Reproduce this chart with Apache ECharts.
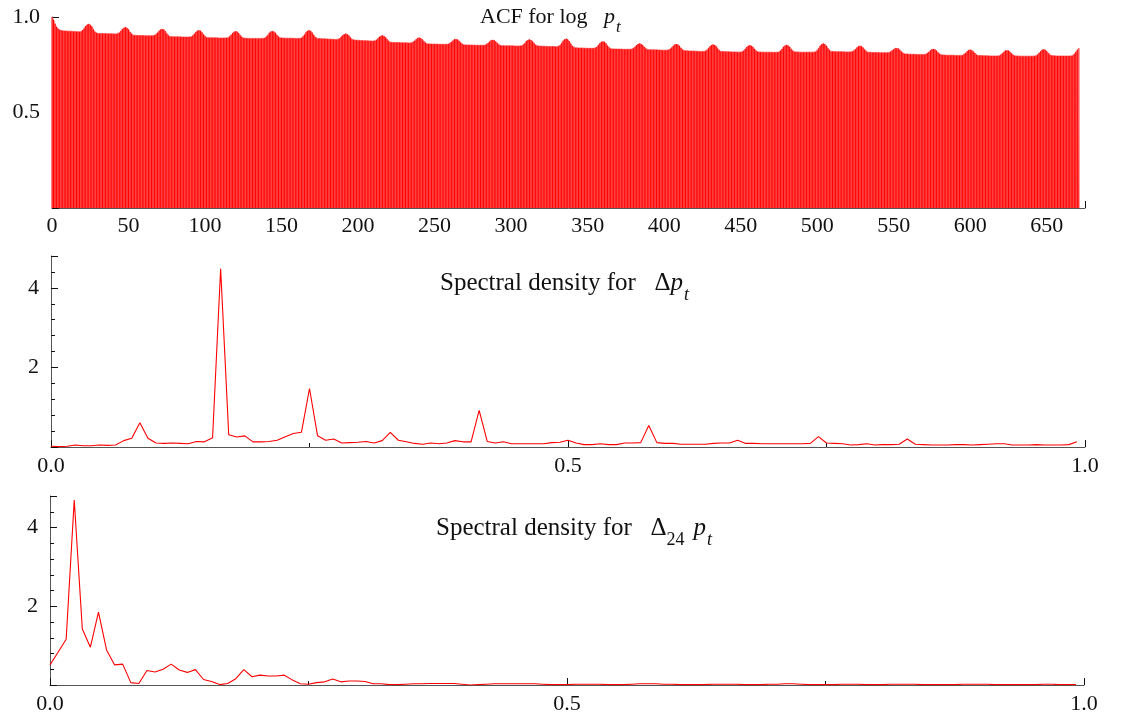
<!DOCTYPE html>
<html>
<head>
<meta charset="utf-8">
<script src="https://cdn.jsdelivr.net/npm/echarts@6/dist/echarts.min.js"></script>
<style>
html,body{margin:0;padding:0;background:#fff;}
#c{width:1121px;height:718px;}
</style>
</head>
<body>
<div id="c"></div>
<script>
// ---------- DATA ----------
// ACF of log p_t, lags 0..671 (rows of 24 lags)
const acfValues = [
1.000,0.985,0.965,0.948,0.938,0.932,0.929,0.928,0.927,0.927,0.926,0.926,0.925,0.925,0.924,0.924,0.923,0.923,0.922,0.924,0.930,0.940,0.953,0.961,
0.963,0.960,0.951,0.936,0.923,0.916,0.914,0.914,0.913,0.913,0.913,0.913,0.912,0.912,0.912,0.912,0.912,0.911,0.911,0.913,0.918,0.927,0.937,0.944,
0.946,0.944,0.935,0.922,0.912,0.905,0.904,0.904,0.903,0.903,0.903,0.903,0.903,0.902,0.902,0.902,0.902,0.902,0.902,0.904,0.909,0.918,0.928,0.935,
0.937,0.935,0.927,0.914,0.904,0.898,0.897,0.897,0.896,0.896,0.896,0.896,0.896,0.895,0.895,0.895,0.895,0.895,0.895,0.897,0.902,0.911,0.921,0.928,
0.930,0.928,0.920,0.909,0.899,0.893,0.892,0.892,0.891,0.891,0.891,0.891,0.891,0.890,0.890,0.890,0.890,0.890,0.890,0.892,0.897,0.906,0.916,0.923,
0.925,0.923,0.916,0.905,0.895,0.890,0.889,0.889,0.888,0.888,0.888,0.888,0.888,0.888,0.888,0.888,0.888,0.888,0.888,0.890,0.896,0.905,0.917,0.924,
0.926,0.924,0.917,0.906,0.896,0.891,0.890,0.890,0.889,0.889,0.889,0.889,0.889,0.889,0.889,0.888,0.888,0.888,0.888,0.890,0.896,0.907,0.920,0.928,
0.930,0.928,0.919,0.906,0.895,0.888,0.887,0.887,0.886,0.886,0.886,0.885,0.885,0.884,0.884,0.883,0.883,0.882,0.882,0.884,0.888,0.896,0.905,0.910,
0.912,0.910,0.903,0.893,0.884,0.879,0.879,0.878,0.878,0.877,0.877,0.877,0.876,0.876,0.876,0.875,0.875,0.875,0.874,0.875,0.880,0.887,0.896,0.902,
0.903,0.901,0.894,0.883,0.873,0.868,0.868,0.867,0.867,0.866,0.866,0.866,0.865,0.865,0.865,0.865,0.865,0.864,0.864,0.865,0.869,0.876,0.884,0.890,
0.891,0.889,0.883,0.873,0.865,0.860,0.859,0.859,0.858,0.858,0.858,0.858,0.858,0.857,0.857,0.857,0.857,0.857,0.857,0.858,0.862,0.869,0.877,0.883,
0.884,0.882,0.876,0.867,0.859,0.855,0.854,0.854,0.853,0.853,0.853,0.853,0.853,0.852,0.852,0.852,0.852,0.852,0.852,0.853,0.857,0.864,0.872,0.878,
0.879,0.878,0.872,0.863,0.855,0.851,0.850,0.850,0.849,0.849,0.849,0.849,0.849,0.849,0.848,0.848,0.848,0.848,0.848,0.850,0.855,0.863,0.874,0.880,
0.882,0.880,0.873,0.863,0.854,0.849,0.848,0.848,0.847,0.847,0.847,0.846,0.846,0.846,0.845,0.845,0.845,0.844,0.844,0.846,0.852,0.863,0.876,0.884,
0.886,0.884,0.874,0.860,0.848,0.840,0.839,0.839,0.838,0.838,0.838,0.837,0.837,0.837,0.836,0.836,0.836,0.836,0.836,0.838,0.843,0.852,0.863,0.870,
0.872,0.870,0.862,0.850,0.840,0.834,0.833,0.833,0.832,0.832,0.832,0.832,0.832,0.831,0.831,0.831,0.831,0.831,0.830,0.832,0.836,0.844,0.853,0.859,
0.861,0.859,0.853,0.843,0.835,0.830,0.829,0.829,0.828,0.828,0.828,0.828,0.827,0.827,0.827,0.826,0.826,0.826,0.826,0.828,0.832,0.840,0.850,0.856,
0.858,0.856,0.849,0.838,0.829,0.824,0.823,0.823,0.822,0.822,0.822,0.822,0.821,0.821,0.821,0.820,0.820,0.820,0.820,0.822,0.827,0.836,0.847,0.854,
0.856,0.854,0.847,0.835,0.826,0.820,0.819,0.819,0.818,0.818,0.818,0.818,0.817,0.817,0.817,0.817,0.816,0.816,0.816,0.818,0.823,0.832,0.843,0.850,
0.852,0.850,0.843,0.832,0.823,0.818,0.817,0.817,0.816,0.816,0.816,0.816,0.816,0.816,0.815,0.815,0.815,0.815,0.815,0.817,0.823,0.832,0.844,0.851,
0.853,0.851,0.844,0.833,0.823,0.818,0.817,0.817,0.816,0.816,0.816,0.816,0.816,0.816,0.816,0.816,0.816,0.816,0.816,0.818,0.825,0.836,0.850,0.859,
0.861,0.859,0.850,0.837,0.827,0.820,0.819,0.819,0.818,0.818,0.818,0.818,0.818,0.818,0.817,0.817,0.817,0.817,0.817,0.819,0.823,0.831,0.841,0.847,
0.849,0.847,0.840,0.830,0.821,0.816,0.815,0.815,0.814,0.814,0.814,0.814,0.814,0.813,0.813,0.813,0.813,0.813,0.813,0.814,0.818,0.824,0.831,0.836,
0.837,0.835,0.829,0.819,0.811,0.807,0.806,0.806,0.805,0.805,0.805,0.805,0.805,0.804,0.804,0.804,0.804,0.804,0.804,0.805,0.810,0.817,0.825,0.831,
0.832,0.830,0.824,0.814,0.806,0.802,0.801,0.801,0.800,0.800,0.800,0.800,0.800,0.800,0.799,0.799,0.799,0.799,0.799,0.800,0.805,0.812,0.821,0.827,
0.828,0.826,0.820,0.811,0.803,0.799,0.798,0.798,0.797,0.797,0.797,0.797,0.797,0.796,0.796,0.796,0.796,0.796,0.796,0.797,0.802,0.809,0.818,0.824,
0.825,0.824,0.818,0.809,0.801,0.797,0.796,0.796,0.795,0.795,0.795,0.795,0.795,0.795,0.795,0.795,0.795,0.795,0.795,0.797,0.802,0.811,0.821,0.828,
0.830,0.828,0.822,0.811,0.803,0.798,0.797,0.797,0.796,0.796,0.796,0.796,0.796,0.796,0.796,0.796,0.796,0.796,0.796,0.798,0.805,0.817,0.829,0.837
];

// Spectral density of Δp_t at frequencies k/128, k = 0..127
const specDiff = [
0.02,0.01,0.02,0.05,0.03,0.03,0.05,0.04,0.05,0.16,
0.22,0.61,0.22,0.10,0.09,0.10,0.09,0.08,0.14,0.13,
0.23,4.48,0.31,0.25,0.28,0.13,0.13,0.14,0.17,0.26,
0.34,0.37,1.47,0.28,0.17,0.20,0.10,0.11,0.12,0.14,
0.10,0.16,0.37,0.17,0.13,0.09,0.07,0.10,0.08,0.10,
0.16,0.13,0.13,0.92,0.14,0.10,0.13,0.08,0.08,0.08,
0.08,0.08,0.11,0.12,0.17,0.10,0.06,0.06,0.08,0.06,
0.06,0.10,0.10,0.11,0.54,0.11,0.09,0.09,0.07,0.07,
0.07,0.07,0.09,0.10,0.10,0.17,0.09,0.09,0.08,0.08,
0.08,0.08,0.08,0.08,0.09,0.26,0.10,0.09,0.08,0.05,
0.06,0.08,0.05,0.06,0.06,0.07,0.20,0.07,0.06,0.05,
0.05,0.05,0.06,0.06,0.05,0.06,0.07,0.08,0.08,0.05,
0.05,0.05,0.06,0.05,0.05,0.05,0.06,0.13
];

// Spectral density of Δ24 p_t at frequencies k/128, k = 0..127
const specDiff24 = [
0.51,0.83,1.16,4.70,1.42,0.96,1.85,0.89,0.51,0.53,
0.06,0.04,0.37,0.33,0.40,0.53,0.38,0.32,0.39,0.14,
0.09,0.01,0.04,0.16,0.39,0.21,0.25,0.23,0.23,0.25,
0.13,0.03,0.02,0.06,0.08,0.15,0.08,0.10,0.10,0.09,
0.03,0.03,0.01,0.01,0.02,0.03,0.03,0.04,0.04,0.04,
0.04,0.02,0.00,0.01,0.02,0.03,0.03,0.03,0.03,0.03,
0.03,0.02,0.01,0.01,0.01,0.02,0.02,0.02,0.02,0.01,
0.01,0.01,0.02,0.03,0.03,0.03,0.02,0.02,0.01,0.01,
0.01,0.01,0.02,0.02,0.02,0.02,0.01,0.01,0.01,0.02,
0.02,0.03,0.03,0.02,0.01,0.01,0.01,0.01,0.02,0.02,
0.02,0.01,0.01,0.01,0.02,0.02,0.02,0.02,0.01,0.01,
0.01,0.01,0.01,0.02,0.02,0.02,0.02,0.01,0.01,0.01,
0.01,0.01,0.01,0.02,0.02,0.01,0.01,0.01
];
const freqDivisions = 128;

// ---------- BUILD ----------
const acfData = acfValues.map((v, i) => [i, v]);
const diffData = specDiff.map((v, k) => [k / freqDivisions, v]);
const diff24Data = specDiff24.map((v, k) => [k / freqDivisions, v]);

const SERIF = 'Liberation Serif';
const labelStyle = {fontFamily: SERIF, fontSize: 22, color: '#111'};
function axisBase(extra) {
  return Object.assign({
    type: 'value',
    splitLine: {show: false},
    axisLine: {show: true, lineStyle: {color: '#555', width: 1}},
    axisTick: {show: true, inside: true, length: 7, lineStyle: {color: '#111', width: 1}},
  }, extra);
}

const rich = (fs, ss, us) => ({
  r: {fontFamily: SERIF, fontSize: fs, fontWeight: 'normal', color: '#111', verticalAlign: 'bottom', padding: [0, 0, 8, 0]},
  i: {fontFamily: SERIF, fontSize: fs, fontWeight: 'normal', fontStyle: 'italic', color: '#111', verticalAlign: 'bottom', padding: [0, 0, 8, 0]},
  s: {fontFamily: SERIF, fontSize: ss, fontWeight: 'normal', fontStyle: 'italic', color: '#111', verticalAlign: 'bottom', lineHeight: 17, padding: [0, 0, 0, 1]},
  u: {fontFamily: SERIF, fontSize: us, fontWeight: 'normal', color: '#111', verticalAlign: 'bottom', lineHeight: 17}
});

const option = {
  animation: false,
  backgroundColor: '#fff',
  title: [
    {text: '{r|ACF for log   }{i|p}{s|t}', left: 480, top: 6, padding: 0, textStyle: {fontWeight: 'normal', rich: rich(22, 17, 17)}},
    {text: '{r|Spectral density for   Δ}{i|p}{s|t}', left: 440, top: 271, padding: 0, textStyle: {fontWeight: 'normal', rich: rich(25, 18, 18)}},
    {text: '{r|Spectral density for   Δ}{u|24  }{i|p}{s|t}', left: 436, top: 516, padding: 0, textStyle: {fontWeight: 'normal', rich: rich(25, 18, 18)}}
  ],
  grid: [
    {left: 52, top: 17, width: 1033, height: 191},
    {left: 51, top: 256, width: 1034, height: 191},
    {left: 50, top: 496, width: 1034, height: 189}
  ],
  xAxis: [
    axisBase({gridIndex: 0, min: 0, max: 675, interval: 50,
      minorTick: {show: true, splitNumber: 2, length: 4, lineStyle: {color: '#111'}},
      axisLabel: Object.assign({margin: 7, formatter: v => (v % 50 === 0 ? String(v) : '')}, labelStyle)}),
    axisBase({gridIndex: 1, min: 0, max: 1, interval: 0.5,
      minorTick: {show: true, splitNumber: 2, length: 4, lineStyle: {color: '#111'}},
      axisLabel: Object.assign({margin: 8, formatter: v => v.toFixed(1)}, labelStyle)}),
    axisBase({gridIndex: 2, min: 0, max: 1, interval: 0.5,
      minorTick: {show: true, splitNumber: 2, length: 4, lineStyle: {color: '#111'}},
      axisLabel: Object.assign({margin: 8, formatter: v => v.toFixed(1)}, labelStyle)})
  ],
  yAxis: [
    axisBase({gridIndex: 0, min: 0, max: 1, interval: 0.5,
      minorTick: {show: true, splitNumber: 5, length: 4, lineStyle: {color: '#111'}},
      axisLabel: Object.assign({margin: 12, formatter: v => (v === 0 ? '' : v.toFixed(1))}, labelStyle)}),
    axisBase({gridIndex: 1, min: 0, max: 4.8, interval: 2,
      minorTick: {show: true, splitNumber: 5, length: 4, lineStyle: {color: '#111'}},
      axisLabel: Object.assign({margin: 12, formatter: v => (v > 0 && v % 2 === 0 ? String(v) : '')}, labelStyle)}),
    axisBase({gridIndex: 2, min: 0, max: 4.8, interval: 2,
      minorTick: {show: true, splitNumber: 5, length: 4, lineStyle: {color: '#111'}},
      axisLabel: Object.assign({margin: 12, formatter: v => (v > 0 && v % 2 === 0 ? String(v) : '')}, labelStyle)})
  ],
  series: [
    {type: 'line', xAxisIndex: 0, yAxisIndex: 0, data: acfData, showSymbol: false, silent: true,
      lineStyle: {color: '#ff8080', width: 1}, areaStyle: {color: '#ff7070', opacity: 1}, z: 1},
    {type: 'bar', xAxisIndex: 0, yAxisIndex: 0, data: acfData, barWidth: 0.8, silent: true,
      itemStyle: {color: '#ff0000'}, z: 2},
    {type: 'line', xAxisIndex: 1, yAxisIndex: 1, data: diffData, showSymbol: false, silent: true,
      lineStyle: {color: '#ff0000', width: 1.1}, z: 3},
    {type: 'line', xAxisIndex: 2, yAxisIndex: 2, data: diff24Data, showSymbol: false, silent: true,
      lineStyle: {color: '#ff0000', width: 1.1}, z: 3}
  ]
};

const chart = echarts.init(document.getElementById('c'), null, {renderer: 'canvas'});
chart.setOption(option);
</script>
</body>
</html>
